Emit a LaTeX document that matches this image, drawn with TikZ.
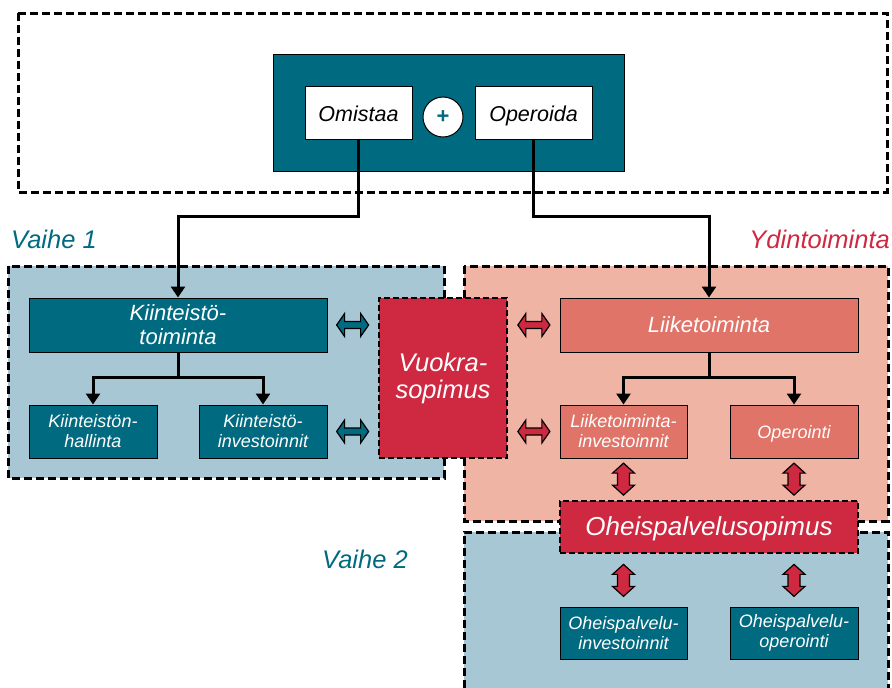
\documentclass[tikz,border=0pt]{standalone}
\usepackage{fontspec}
\setmainfont{Liberation Sans}
\usetikzlibrary{arrows.meta,calc}

\definecolor{petrol}{RGB}{0,106,128}
\definecolor{paleblue}{RGB}{168,199,212}
\definecolor{salmon}{RGB}{240,180,165}
\definecolor{coral}{RGB}{224,116,104}
\definecolor{crimson}{RGB}{207,40,65}

\tikzset{
  region/.style={draw=black, line width=3pt, dash pattern=on 8pt off 4pt},
  box/.style={draw=black, line width=1pt, inner sep=0pt, text=white,
              font=\itshape\fontsize{18}{20}\selectfont},
  twoline/.style={align=center},
  bigbox/.style={box, font=\itshape\fontsize{22}{24}\selectfont},
  oneline/.style={text height=#1, text depth=0pt},
  contract/.style={draw=black, line width=2.5pt, dash pattern=on 6pt off 3pt, fill=crimson,
              inner sep=0pt, text=white},
  conn/.style={line width=3pt, -{Triangle[width=14pt,length=11pt]}},
  tree/.style={line width=3pt},
  phase/.style={font=\itshape\fontsize{25.5}{27}\selectfont, inner sep=0pt},
  blockarrow/.style={draw=black, line width=1.2pt},
  harrow/.pic={\path[pic actions] (-16,0) -- (-8,-11.5) -- (-8,-3.5) -- (8,-3.5) -- (8,-11.5)
       -- (16,0) -- (8,11.5) -- (8,3.5) -- (-8,3.5) -- (-8,11.5) -- cycle;},
  varrow/.pic={\path[pic actions] (0,-16) -- (-11,-6) -- (-6,-6) -- (-6,6) -- (-11,6)
       -- (0,16) -- (11,6) -- (6,6) -- (6,-6) -- (11,-6) -- cycle;},
}

\begin{document}
\begin{tikzpicture}[x=1pt,y=-1pt]
\useasboundingbox (0,0) rectangle (892,688);
\clip (0,0) rectangle (892,688);

% phase regions
\fill[paleblue] (464,532) rectangle (888,700);
\draw[region] (464,700) -- (464,532) -- (888,532) -- (888,700);
\draw[region, fill=salmon] (464,266) rectangle (888,521);
\draw[region, fill=paleblue] (8,266) rectangle (444,478);

% ownership and operation on top
\draw[region] (18,13) rectangle (887,192);
\node[draw=black, line width=1pt, fill=petrol, minimum width=351pt, minimum height=117pt]
  (top) at (448.5,112.5) {};
\node[box, fill=white, text=black, font=\itshape\fontsize{21.5}{23}\selectfont, oneline=18pt,
  minimum width=107pt, minimum height=53pt] (om) at (358.5,112.5) {Omistaa};
\node[box, fill=white, text=black, font=\itshape\fontsize{21.5}{23}\selectfont, oneline=18pt,
  minimum width=117pt, minimum height=53pt] (op) at (533.5,112.5) {Operoida};
\node[circle, draw=black, line width=1pt, fill=white, minimum size=40pt, inner sep=0pt,
  text=petrol, font=\bfseries\fontsize{22}{22}\selectfont] (plus) at (443,117) {+};

% phase labels
\node[phase, text=petrol, anchor=base west] (v1) at (11,248) {Vaihe 1};
\node[phase, text=crimson, anchor=base east] (yd) at (890,248) {Ydintoiminta};
\node[phase, text=petrol, anchor=base west] (v2) at (322,568) {Vaihe 2};

% real estate side
\node[bigbox, twoline, fill=petrol, minimum width=298pt, minimum height=54pt] (kt)
  at (178,325) {Kiinteistö-\\toiminta};
\node[box, twoline, fill=petrol, minimum width=128pt, minimum height=53pt] (kh)
  at (93,431.5) {Kiinteistön-\\hallinta};
\node[box, twoline, fill=petrol, minimum width=128pt, minimum height=53pt] (ki)
  at (263,431.5) {Kiinteistö-\\investoinnit};

% core business side
\node[bigbox, fill=coral, oneline=15.5pt, minimum width=298pt, minimum height=54pt] (li)
  at (709,325) {Liiketoiminta};
\node[box, twoline, fill=coral, minimum width=127pt, minimum height=53pt] (lii)
  at (623.5,431.5) {Liiketoiminta-\\investoinnit};
\node[box, fill=coral, oneline=13.6pt, minimum width=128pt, minimum height=53pt] (opr)
  at (794,431.5) {Operointi};

% ancillary services
\node[box, twoline, fill=petrol, minimum width=127pt, minimum height=52pt] (opi)
  at (623.5,633) {Oheispalvelu-\\investoinnit};
\node[box, twoline, fill=petrol, minimum width=128pt, minimum height=52pt] (opo)
  at (794,633) {Oheispalvelu-\\operointi};

% contracts
\node[contract, twoline, font=\itshape\fontsize{25.5}{27}\selectfont,
  minimum width=128pt, minimum height=160pt] (vs) at (443,378) {Vuokra-\\sopimus};
\node[contract, font=\itshape\fontsize{26}{28}\selectfont, oneline=16.5pt,
  minimum width=298pt, minimum height=52pt] (os) at (709,527) {Oheispalvelusopimus};

% connectors
\draw[conn] (om.south) -- ++(0,77) -| (kt.north);
\draw[conn] (op.south) -- ++(0,77) -| (li.north);
\draw[tree] (kt.south) -- ++(0,25) coordinate (ktj);
\draw[conn] (ktj) -| (kh.north);
\draw[conn] (ktj) -| (ki.north);
\draw[tree] (li.south) -- ++(0,25) coordinate (lij);
\draw[conn] (lij) -| (lii.north);
\draw[conn] (lij) -| (opr.north);

% contract links
\pic[blockarrow, fill=petrol] at ($(kt.east)!0.5!(vs.west |- kt.east)$) {harrow};
\pic[blockarrow, fill=petrol] at ($(ki.east)!0.5!(vs.west |- ki.east)$) {harrow};
\pic[blockarrow, fill=crimson] at ($(li.west)!0.5!(vs.east |- li.west)$) {harrow};
\pic[blockarrow, fill=crimson] at ($(lii.west)!0.5!(vs.east |- lii.west)$) {harrow};
\pic[blockarrow, fill=crimson] at ($(lii.south)!0.5!(os.north -| lii.south)$) {varrow};
\pic[blockarrow, fill=crimson] at ($(opr.south)!0.5!(os.north -| opr.south)$) {varrow};
\pic[blockarrow, fill=crimson] at ($(opi.north)!0.5!(os.south -| opi.north)$) {varrow};
\pic[blockarrow, fill=crimson] at ($(opo.north)!0.5!(os.south -| opo.north)$) {varrow};
\end{tikzpicture}
\end{document}
